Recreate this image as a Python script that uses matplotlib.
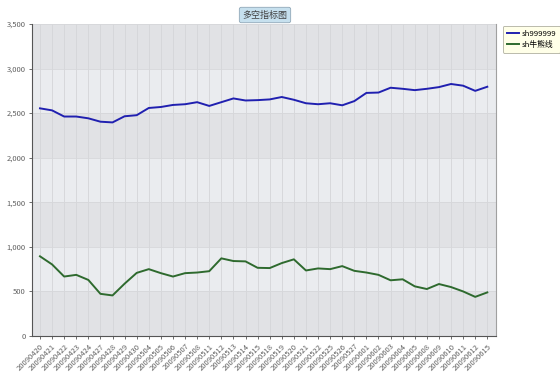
import matplotlib
matplotlib.use('Agg')
import matplotlib.pyplot as plt

plt.rcParams['font.family'] = ['Noto Sans CJK SC', 'DejaVu Sans']

# Data
dates = ['20090420', '20090421', '20090422', '20090423', '20090424', '20090427',
         '20090428', '20090429', '20090430', '20090504', '20090505', '20090506',
         '20090507', '20090508', '20090511', '20090512', '20090513', '20090514',
         '20090515', '20090518', '20090519', '20090520', '20090521', '20090522',
         '20090525', '20090526', '20090527', '20090601', '20090602', '20090603',
         '20090604', '20090605', '20090608', '20090609', '20090610', '20090611',
         '20090612', '20090615']
sh999999 = [2554, 2531, 2462, 2462, 2442, 2404, 2396, 2465, 2477, 2558, 2569, 2592,
            2600, 2623, 2581, 2623, 2665, 2642, 2646, 2654, 2681, 2650, 2611, 2600,
            2611, 2588, 2635, 2727, 2731, 2785, 2773, 2758, 2773, 2792, 2827, 2808,
            2750, 2796]
bull_bear = [894, 803, 667, 686, 629, 473, 455, 587, 708, 750, 705, 667,
             705, 712, 727, 871, 841, 837, 765, 762, 818, 860, 735, 758,
             750, 784, 731, 712, 686, 625, 636, 557, 527, 583, 549, 500,
             439, 489]
yticks = [0, 500, 1000, 1500, 2000, 2500, 3000, 3500]

fig = plt.figure(figsize=(5.6, 3.87), dpi=100)
ax = fig.add_axes([32 / 560, 1 - 336 / 387, 464 / 560, 312 / 387])

x = list(range(len(dates)))

# alternating horizontal bands
for i in range(len(yticks) - 1):
    col = '#eaecef' if i % 2 == 1 else '#e1e2e5'
    ax.axhspan(yticks[i], yticks[i + 1], color=col, zorder=0, lw=0)
for xi in x:
    ax.axvline(xi, color='#d4d5d8', lw=0.6, zorder=1)
for yv in yticks[1:]:
    ax.axhline(yv, color='#d6d7da', lw=0.6, zorder=1)

ax.plot(x, sh999999, color='#2020b0', lw=1.4, zorder=3, label='sh999999')
ax.plot(x, bull_bear, color='#2e6a2e', lw=1.4, zorder=3, label='sh牛熊线')

ax.set_xlim(-0.66, len(dates) - 1 + 0.72)
ax.set_ylim(0, 3500)
ax.set_yticks(yticks)
ax.set_yticklabels([f'{v:,}' for v in yticks])
ax.set_xticks(x)
ax.set_xticklabels(dates, rotation=45, ha='right', rotation_mode='anchor')
ax.tick_params(axis='both', labelsize=5.5, labelcolor='#606060', color='#555555',
               length=2.5, width=0.6, pad=2)

ax.spines['top'].set_visible(False)
ax.spines['right'].set_color('#a0a0a0')
ax.spines['left'].set_color('#555555')
ax.spines['bottom'].set_color('#555555')
ax.spines['left'].set_linewidth(0.8)
ax.spines['bottom'].set_linewidth(0.8)

fig.text(265 / 560, 1 - 15 / 387, '多空指标图', ha='center', va='center', fontsize=6.5,
         color='#404040',
         bbox=dict(boxstyle='round,pad=0.35,rounding_size=0.2', fc='#c6e0ee', ec='#90a8b8', lw=0.6))

leg = fig.legend(loc='upper left', bbox_to_anchor=(499 / 560, 1 - 22 / 387), fontsize=5.6,
                 handlelength=1.6, handletextpad=0.3, borderpad=0.5, labelspacing=0.4,
                 fancybox=True, framealpha=1)
leg.get_frame().set_facecolor('#ffffe8')
leg.get_frame().set_edgecolor('#b0b0a0')
leg.get_frame().set_linewidth(0.6)

fig.savefig('out.png', dpi=100)
